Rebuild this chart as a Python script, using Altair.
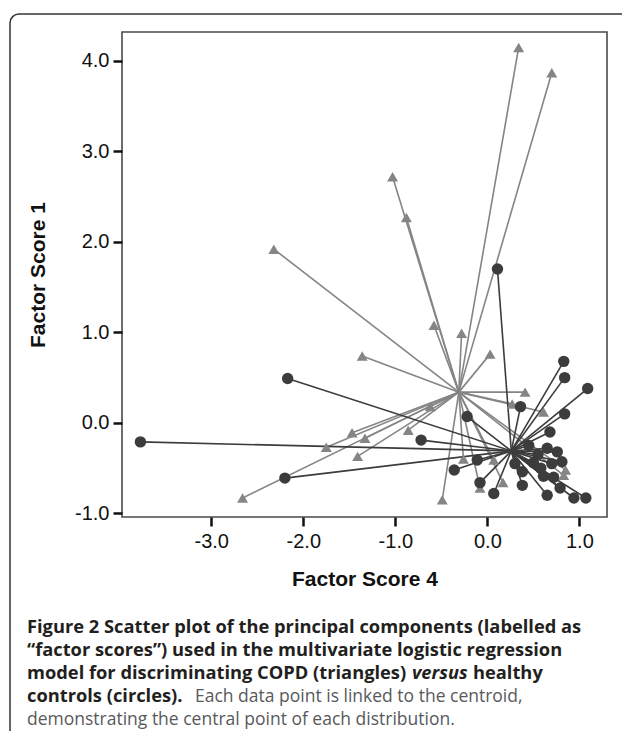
import altair as alt
import pandas as pd

# COPD (triangles)
copd_x = [0.34, 0.70, -1.03, -0.88, -2.32, -0.58, -0.28, 0.03, -1.36, 0.41, 0.27, 0.61,
          -0.62, -0.86, -1.47, -1.33, -1.75, -1.41, -2.66, -0.26, 0.07, 0.17, -0.08, -0.49,
          0.85, 0.83]
copd_y = [4.15, 3.87, 2.72, 2.27, 1.92, 1.08, 0.99, 0.76, 0.74, 0.34, 0.21, 0.12,
          0.18, -0.08, -0.11, -0.17, -0.27, -0.37, -0.83, -0.40, -0.41, -0.66, -0.72, -0.85,
          -0.52, -0.58]
copd_centroid = (-0.31, 0.34)

# Healthy controls (circles)
healthy_x = [-3.77, -2.17, -2.20, -0.72, -0.36, -0.22, -0.11, -0.08, 0.07, 0.11, 0.36,
             0.83, 0.84, 1.09, 0.84, 0.68, 0.76, 0.81, 0.65, 0.58, 0.61, 0.38, 0.38,
             0.65, 0.79, 0.94, 1.07, 0.50, 0.70, 0.72, 0.55, 0.45, 0.30]
healthy_y = [-0.21, 0.49, -0.61, -0.19, -0.52, 0.07, -0.41, -0.66, -0.78, 1.70, 0.18,
             0.68, 0.50, 0.38, 0.10, -0.10, -0.32, -0.43, -0.28, -0.50, -0.59, -0.54, -0.69,
             -0.80, -0.72, -0.83, -0.83, -0.44, -0.45, -0.60, -0.35, -0.25, -0.45]
healthy_centroid = (0.26, -0.31)

x_ticks = [-3.0, -2.0, -1.0, 0.0, 1.0]
y_ticks = [-1.0, 0.0, 1.0, 2.0, 3.0, 4.0]

BOLD_C = "#231f20"
REG_C = "#58595b"
BF = 18.3
RF = 17.5
caption_lines = [
    [("Figure 2 Scatter plot of the principal components (labelled as", "bold", "normal", BOLD_C, BF)],
    [("\u201cfactor scores\u201d) used in the multivariate logistic regression", "bold", "normal", BOLD_C, BF)],
    [("model for discriminating COPD (triangles)", "bold", "normal", BOLD_C, BF),
     ("versus", "bold", "italic", BOLD_C, BF),
     ("healthy", "bold", "normal", BOLD_C, BF)],
    [("controls (circles).", "bold", "normal", BOLD_C, BF),
     ("Each data point is linked to the centroid,", "normal", "normal", REG_C, RF)],
    [("demonstrating the central point of each distribution.", "normal", "normal", REG_C, RF)],
]
# x offsets (px) of segments inside each caption line
seg_offsets = [[0], [0], [0, 385, 446], [0, 168], [0]]

copd = pd.DataFrame({"x": copd_x, "y": copd_y,
                     "cx": copd_centroid[0], "cy": copd_centroid[1]})
healthy = pd.DataFrame({"x": healthy_x, "y": healthy_y,
                        "cx": healthy_centroid[0], "cy": healthy_centroid[1]})

W, H = 485, 485
xs = alt.Scale(domain=[-3.97, 1.30], nice=False, zero=False)
ys = alt.Scale(domain=[-1.04, 4.32], nice=False, zero=False)
neg_fmt = "(datum.value < 0 ? '-' : '') + format(abs(datum.value), '.1f')"

x_axis = alt.Axis(values=x_ticks, labelExpr=neg_fmt, title="Factor Score 4", grid=False,
                  titleX=W / 2, titleY=62, titleBaseline="middle", titleAlign="center")
y_axis = alt.Axis(values=y_ticks, labelExpr=neg_fmt, title="Factor Score 1", grid=False,
                  titleX=-84, titleY=H / 2, titleAngle=270, titleBaseline="middle",
                  titleAlign="center")

GRAY = "#858585"
DARK = "#3c3c3c"

copd_rules = alt.Chart(copd).mark_rule(color=GRAY, strokeWidth=1.6).encode(
    x=alt.X("x:Q", scale=xs, axis=x_axis), y=alt.Y("y:Q", scale=ys, axis=y_axis),
    x2="cx:Q", y2="cy:Q")
healthy_rules = alt.Chart(healthy).mark_rule(color=DARK, strokeWidth=1.6).encode(
    x=alt.X("x:Q", scale=xs), y=alt.Y("y:Q", scale=ys), x2="cx:Q", y2="cy:Q")
copd_pts = alt.Chart(copd).mark_point(shape="triangle-up", filled=True, color=GRAY,
                                      opacity=1, size=120).encode(
    x=alt.X("x:Q", scale=xs), y=alt.Y("y:Q", scale=ys))
healthy_pts = alt.Chart(healthy).mark_point(shape="circle", filled=True, color=DARK,
                                            opacity=1, size=130).encode(
    x=alt.X("x:Q", scale=xs), y=alt.Y("y:Q", scale=ys))

one = pd.DataFrame({"a": [0]})

# figure frame (top and left edge with rounded corner)
BX, BY, R = -112, -18, 9
frame_top = alt.Chart(one).mark_rule(color="#333", strokeWidth=1.5).encode(
    x=alt.value(BX + R), x2=alt.value(W + 40), y=alt.value(BY))
frame_left = alt.Chart(one).mark_rule(color="#333", strokeWidth=1.5).encode(
    x=alt.value(BX), y=alt.value(BY + R), y2=alt.value(H + 260))
frame_corner = alt.Chart(one).mark_arc(color="#333", radius=R + 0.75, radius2=R - 0.75,
                                       theta=4.712389, theta2=6.283185).encode(
    x=alt.value(BX + R), y=alt.value(BY + R))

text_layers = []
base_x = -95
base_y = 601
for i, line in enumerate(caption_lines):
    for (txt, weight, style, col, fs), off in zip(line, seg_offsets[i]):
        text_layers.append(
            alt.Chart(one).mark_text(text=txt, align="left", baseline="alphabetic",
                                     font="Open Sans", fontSize=fs, fontWeight=weight,
                                     fontStyle=style, color=col).encode(
                x=alt.value(base_x + off), y=alt.value(base_y + 23 * i)))

chart = alt.layer(frame_top, frame_left, frame_corner, copd_rules, healthy_rules,
                  copd_pts, healthy_pts, *text_layers).properties(
    width=W, height=H,
    autosize=alt.AutoSizeParams(type="none"),
    padding={"left": 114, "top": 24, "right": 15, "bottom": 214},
).configure_view(stroke="#4a4a4a", strokeWidth=1.6).configure_axis(
    labelFont="Liberation Sans", labelFontSize=20, labelColor="#111",
    titleFont="Liberation Sans", titleFontSize=21, titleFontWeight="bold", titleColor="#111",
    tickColor="#111", tickWidth=2.5, tickSize=9, labelPadding=4, domain=False,
).configure_axisX(labelPadding=5)

chart.save("out.html", embed_options={"renderer": "svg", "actions": False})
